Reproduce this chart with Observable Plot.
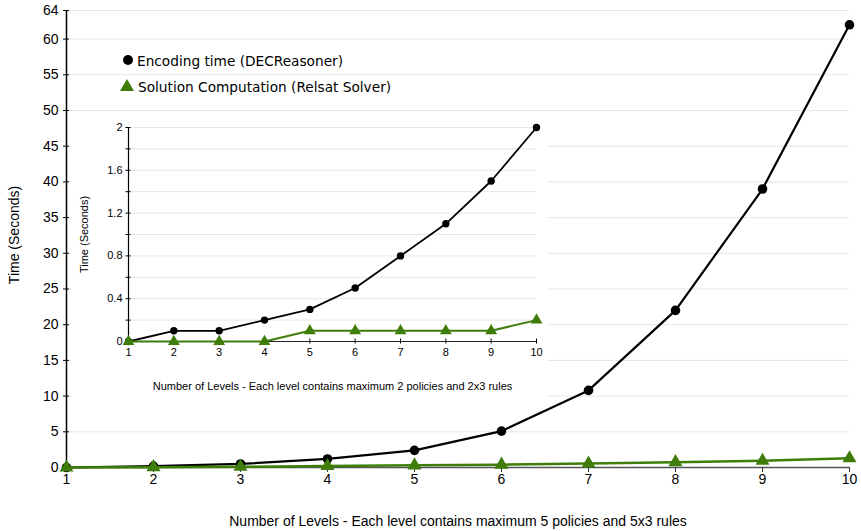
<!DOCTYPE html>
<html>
<head>
<meta charset="utf-8">
<script src="https://cdn.jsdelivr.net/npm/d3@7"></script>
<script src="https://cdn.jsdelivr.net/npm/@observablehq/plot@0.6"></script>
<style>
  html, body { margin: 0; padding: 0; background: #fff; }
  #wrap { position: relative; width: 861px; height: 531px; overflow: hidden; }
  #inset { position: absolute; left: 71px; top: 114px; width: 477px; height: 287px; background: #fff; }
  #legend { position: absolute; left: 0; top: 0; }
</style>
</head>
<body>
<div id="wrap">
  <div id="main"></div>
  <div id="inset"></div>
  <svg id="legend" width="861" height="120" font-family="DejaVu Sans" font-size="13.7">
    <circle cx="128" cy="60" r="5" fill="#000"></circle>
    <text x="137" y="65.5" fill="#000">Encoding time (DECReasoner)</text>
    <path d="M127,79 L134,91 L120,91 Z" fill="#3f7d0b"></path>
    <text x="138" y="91.5" fill="#000">Solution Computation (Relsat Solver)</text>
  </svg>
</div>
<script>
// ---- data ----
const levels = [1, 2, 3, 4, 5, 6, 7, 8, 9, 10];

// main chart: max 5 policies, 5x3 rules
const mainEncoding = [0, 0.2, 0.5, 1.2, 2.4, 5.1, 10.8, 22.0, 39.0, 62.0];
const mainSolution = [0, 0.05, 0.1, 0.2, 0.3, 0.4, 0.55, 0.75, 0.95, 1.3];
const mainYTicks = [0, 5, 10, 15, 20, 25, 30, 35, 40, 45, 50, 55, 60, 64];

// inset chart: max 2 policies, 2x3 rules
const insetEncoding = [0, 0.1, 0.1, 0.2, 0.3, 0.5, 0.8, 1.1, 1.5, 2.0];
const insetSolution = [0, 0, 0, 0, 0.1, 0.1, 0.1, 0.1, 0.1, 0.2];
const insetGridTicks = [0, 0.2, 0.4, 0.6, 0.8, 1.0, 1.2, 1.4, 1.6, 1.8, 2.0];
const insetLabelTicks = [0, 0.4, 0.8, 1.2, 1.6, 2.0];

const seriesNames = ["Encoding time (DECReasoner)", "Solution Computation (Relsat Solver)"];
const yLabel = "Time (Seconds)";
const mainXLabel = "Number of Levels - Each level contains maximum 5 policies and 5x3 rules";
const insetXLabel = "Number of Levels - Each level contains maximum 2 policies and 2x3 rules";

const GREEN = "#3f7d0b";

const mainEnc = levels.map((l, i) => ({level: l, value: mainEncoding[i]}));
const mainSol = levels.map((l, i) => ({level: l, value: mainSolution[i]}));
const insEnc = levels.map((l, i) => ({level: l, value: insetEncoding[i]}));
const insSol = levels.map((l, i) => ({level: l, value: insetSolution[i]}));

const fmt = d => String(+(+d).toFixed(1));

// ---- main chart ----
const main = Plot.plot({
  width: 861,
  height: 531,
  marginLeft: 66,
  marginRight: 12,
  marginTop: 10,
  marginBottom: 64,
  style: {fontFamily: "Liberation Sans, Arial, sans-serif", fontSize: "14px", background: "#fff", color: "#000"},
  x: {domain: [1, 10]},
  y: {domain: [0, 64]},
  marks: [
    Plot.gridY(mainYTicks, {stroke: "#e6e6e6", strokeOpacity: 1, strokeWidth: 1}),
    Plot.ruleY([0], {stroke: "#555", strokeWidth: 1.5}),
    Plot.ruleX([1], {stroke: "#000", strokeWidth: 1.5}),
    Plot.axisY({ticks: mainYTicks, tickSize: 6, dx: 3, tickPadding: 5, tickFormat: fmt, label: null, fontSize: 14, stroke: "#000"}),
    Plot.axisX({ticks: levels, tickSize: 5, tickPadding: 2, tickFormat: d => String(d), label: null, fontSize: 14, stroke: "#333"}),
    Plot.line(mainEnc, {x: "level", y: "value", stroke: "#000", strokeWidth: 2.2}),
    Plot.dot(mainEnc, {x: "level", y: "value", r: 4.8, fill: "#000"}),
    Plot.line(mainSol, {x: "level", y: "value", stroke: GREEN, strokeWidth: 2.5}),
    Plot.dot(mainSol, {x: "level", y: "value", r: 5.2, symbol: "triangle", fill: GREEN}),
    Plot.text([mainXLabel], {frameAnchor: "bottom", dy: 54, lineAnchor: "middle", fontSize: 14, fill: "#000"}),
    Plot.text([yLabel], {frameAnchor: "left", textAnchor: "middle", rotate: -90, dx: -52, dy: -4, lineAnchor: "middle", fontSize: 14, fill: "#000"})
  ]
});
document.getElementById("main").appendChild(main);

// ---- inset chart ----
const inset = Plot.plot({
  width: 477,
  height: 287,
  marginLeft: 57,
  marginRight: 12,
  marginTop: 13,
  marginBottom: 60,
  style: {fontFamily: "Liberation Sans, Arial, sans-serif", fontSize: "11px", background: "#fff", color: "#000"},
  x: {domain: [1, 10]},
  y: {domain: [0, 2]},
  marks: [
    Plot.gridY(insetGridTicks, {stroke: "#e6e6e6", strokeOpacity: 1, strokeWidth: 1}),
    Plot.ruleY([0], {stroke: "#222", strokeWidth: 1.2}),
    Plot.ruleX([1], {stroke: "#000", strokeWidth: 1.2}),
    Plot.axisY({ticks: insetGridTicks, tickSize: 5, dx: 2.5, tickFormat: () => "", label: null, stroke: "#000"}),
    Plot.axisY({ticks: insetLabelTicks, tickSize: 0, tickPadding: 6, tickFormat: fmt, label: null, fontSize: 11}),
    Plot.axisX({ticks: levels, tickSize: 5, dy: -2.5, tickPadding: 4.5, tickFormat: d => String(d), label: null, fontSize: 11, stroke: "#000"}),
    Plot.line(insEnc, {x: "level", y: "value", stroke: "#000", strokeWidth: 1.8}),
    Plot.dot(insEnc, {x: "level", y: "value", r: 3.7, fill: "#000"}),
    Plot.line(insSol, {x: "level", y: "value", stroke: GREEN, strokeWidth: 2}),
    Plot.dot(insSol, {x: "level", y: "value", r: 4.4, symbol: "triangle", fill: GREEN}),
    Plot.text([insetXLabel], {frameAnchor: "bottom", dy: 45, lineAnchor: "middle", fontSize: 11, fill: "#000"}),
    Plot.text([yLabel], {frameAnchor: "left", textAnchor: "middle", rotate: -90, dx: -44, lineAnchor: "middle", fontSize: 11, fill: "#000"})
  ]
});
document.getElementById("inset").appendChild(inset);
</script>
</body>
</html>
